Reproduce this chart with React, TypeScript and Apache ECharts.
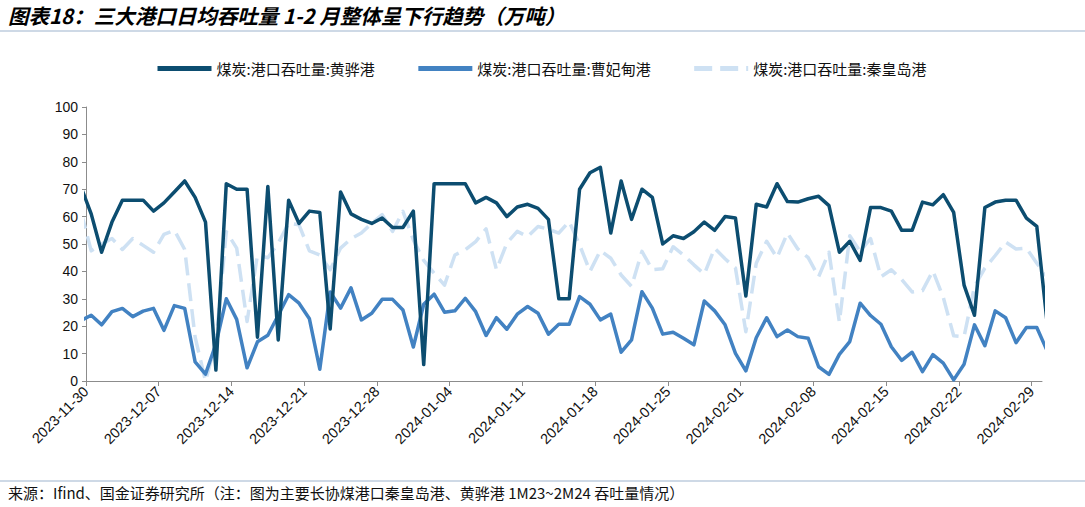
import React, { useEffect, useRef } from "react";
import * as echarts from "echarts";

// Tick labels (every 7 days; axis spans 2023-11-30 .. 2024-03-01)
const xTickLabels = [
  "2023-11-30", "2023-12-07", "2023-12-14", "2023-12-21", "2023-12-28",
  "2024-01-04", "2024-01-11", "2024-01-18", "2024-01-25", "2024-02-01",
  "2024-02-08", "2024-02-15", "2024-02-22", "2024-02-29",
];

// Daily values (万吨); first and last entries lie just outside the visible window
const huanghua = [
  71,
  61, 47, 58, 66, 66, 66, 62, 65, 69, 73,
  67, 58, 4, 72, 70, 70, 16, 71, 15, 66,
  57.5, 62, 61.5, 19, 69, 61, 59, 57.5, 59.5, 56,
  56, 62, 6, 72, 72, 72, 72, 65, 67, 65,
  60, 63.5, 64.5, 63, 59, 30, 30, 70, 76, 78,
  54, 73, 59, 70, 67, 50, 53, 52, 54.5, 58,
  55, 60, 59.5, 31, 64.5, 63.5, 72, 65.5, 65.3, 66.5,
  67.4, 64, 47, 51, 44, 63.3, 63.3, 62, 55, 55,
  65.3, 64.3, 68, 61.5, 35, 24, 63.3, 65.3, 66, 66,
  59.4, 56.4,
  21,
];
const caofeidian = [
  22,
  24, 20.5, 25.3, 26.5, 23.5, 25.5, 26.5, 18.5, 27.5, 26.5,
  7, 2.5, 13.5, 30, 22.5, 4.8, 14.3, 16.7, 24, 31.5,
  28.4, 22.7, 4.3, 32.5, 26.6, 34, 22.3, 24.7, 29.8, 29.8,
  25.9, 12.4, 28, 31.7, 25.1, 25.6, 30.2, 25.3, 16.6, 23.1,
  18.9, 24.4, 27.2, 24.7, 17.1, 20.7, 20.7, 30.8, 28, 22.3,
  24.4, 10.5, 15, 32.6, 26.6, 17.1, 17.8, 15.6, 13.2, 29.2,
  25.6, 20.5, 10.1, 3.7, 15.8, 23.1, 16.2, 18.6, 16.2, 15.6,
  5.2, 2.4, 9.7, 14.4, 28.4, 23.9, 20.7, 12.5, 7.5, 10.5,
  3.4, 9.6, 6.5, 0.4, 6.1, 20.5, 12.9, 25.6, 23.1, 14,
  19.5, 19.5,
  11,
];
const qinhuangdao = [
  62,
  47.5, 50, 52, 48, 52, 49.5, 47, 53.5, 55, 48,
  16, 0, 14, 54.5, 48.5, 21.7, 46, 45, 50.3, 57.6,
  57, 47.5, 46, 40.6, 48.5, 51.9, 54, 57.6, 60.7, 54.6,
  61.9, 51.5, 44, 39.3, 35, 46, 47.9, 50.9, 55.5, 40.6,
  50.3, 54.6, 52.7, 56.4, 55.4, 54, 58.2, 49.7, 40, 47.6,
  44.8, 38.7, 34.5, 47.3, 40.6, 41, 49, 46, 42.4, 39,
  48.5, 44.6, 41.2, 18, 43, 51, 45, 54, 48.2, 45,
  38, 47, 21.5, 53, 47.3, 52, 38, 40.6, 37, 32.5,
  33, 40.2, 30.5, 16.5, 16.2, 34.5, 41.2, 45.8, 50.7, 48.2,
  48.5, 43,
  38,
];

const seriesNames = [
  "煤炭:港口吞吐量:黄骅港",
  "煤炭:港口吞吐量:曹妃甸港",
  "煤炭:港口吞吐量:秦皇岛港",
];
const titleText = "图表18：三大港口日均吞吐量 1-2 月整体呈下行趋势（万吨）";
const sourceText =
  "来源：Ifind、国金证券研究所（注：图为主要长协煤港口秦皇岛港、黄骅港 1M23~2M24 吞吐量情况）";

const DAY_SPAN = 92; // days shown on the axis
const TICK_STEP = 7;

// each daily value sits in the middle of its day slot
const toPoints = (arr: number[]) => arr.map((v, i) => [i - 0.5, v]);

const CJK = '"Noto Sans CJK SC", "Noto Sans", sans-serif';
const LATIN = '"Liberation Sans", Arial, sans-serif';

export default function App() {
  const ref = useRef<HTMLDivElement>(null);

  useEffect(() => {
    if (!ref.current) return;
    const chart = echarts.init(ref.current, undefined, { renderer: "svg" });
    const tickValues = xTickLabels.map((_, i) => i * TICK_STEP);

    chart.setOption({
      animation: false,
      backgroundColor: "#ffffff",
      grid: { left: 86, right: 43, top: 107, bottom: 126, containLabel: false },
      legend: {
        left: 150,
        top: 56,
        itemWidth: 54,
        itemHeight: 14,
        itemGap: 41,
        data: seriesNames,
        itemStyle: { opacity: 0 },
        lineStyle: { width: 5 },
        textStyle: { fontFamily: CJK, fontSize: 15, color: "#111" },
      },
      xAxis: {
        type: "value",
        min: 0,
        max: DAY_SPAN,
        interval: TICK_STEP,
        splitLine: { show: false },
        axisLine: { show: true, lineStyle: { color: "#8c8c8c", width: 1 } },
        axisTick: {
          show: true,
          length: 5,
          customValues: tickValues,
          lineStyle: { color: "#8c8c8c" },
        },
        axisLabel: {
          customValues: tickValues,
          rotate: 45,
          margin: 8,
          fontSize: 14.5,
          fontFamily: LATIN,
          color: "#111",
          formatter: (v: number) => xTickLabels[Math.round(v / TICK_STEP)] ?? "",
        },
      },
      yAxis: {
        type: "value",
        min: 0,
        max: 100,
        interval: 10,
        splitLine: { show: false },
        axisLine: { show: true, lineStyle: { color: "#8c8c8c", width: 1 } },
        axisTick: { show: true, length: 4, lineStyle: { color: "#8c8c8c" } },
        axisLabel: { fontSize: 14, fontFamily: LATIN, color: "#111", margin: 8 },
      },
      series: [
        {
          name: seriesNames[0],
          type: "line",
          data: toPoints(huanghua),
          symbol: "none",
          clip: true,
          z: 4,
          lineStyle: { color: "#0C4D70", width: 3.5, join: "round" },
          itemStyle: { color: "#0C4D70" },
        },
        {
          name: seriesNames[1],
          type: "line",
          data: toPoints(caofeidian),
          symbol: "none",
          clip: true,
          z: 3,
          lineStyle: { color: "#4282C2", width: 3.5, join: "round" },
          itemStyle: { color: "#4282C2" },
        },
        {
          name: seriesNames[2],
          type: "line",
          data: toPoints(qinhuangdao),
          symbol: "none",
          clip: true,
          z: 2,
          lineStyle: { color: "#CEE1F3", width: 3.5, type: [18, 8], join: "round" },
          itemStyle: { color: "#CEE1F3" },
        },
      ],
      graphic: [
        {
          type: "text",
          left: 8,
          top: 5,
          style: {
            text: titleText,
            fontFamily: CJK,
            fontSize: 20.5,
            fontWeight: "bold",
            fontStyle: "italic",
            fill: "#000",
          },
        },
        {
          type: "line",
          shape: { x1: 0, y1: 31, x2: 1085, y2: 31 },
          style: { stroke: "#9DB3CD", lineWidth: 1 },
        },
        {
          type: "line",
          shape: { x1: 0, y1: 481, x2: 1085, y2: 481 },
          style: { stroke: "#9DB3CD", lineWidth: 1 },
        },
        {
          type: "text",
          left: 8,
          top: 485,
          style: {
            text: sourceText,
            fontFamily: CJK,
            fontSize: 15,
            fill: "#111",
          },
        },
      ],
    });

    return () => chart.dispose();
  }, []);

  return (
    <div
      ref={ref}
      style={{ position: "absolute", left: 0, top: 0, width: 1085, height: 507 }}
    />
  );
}
